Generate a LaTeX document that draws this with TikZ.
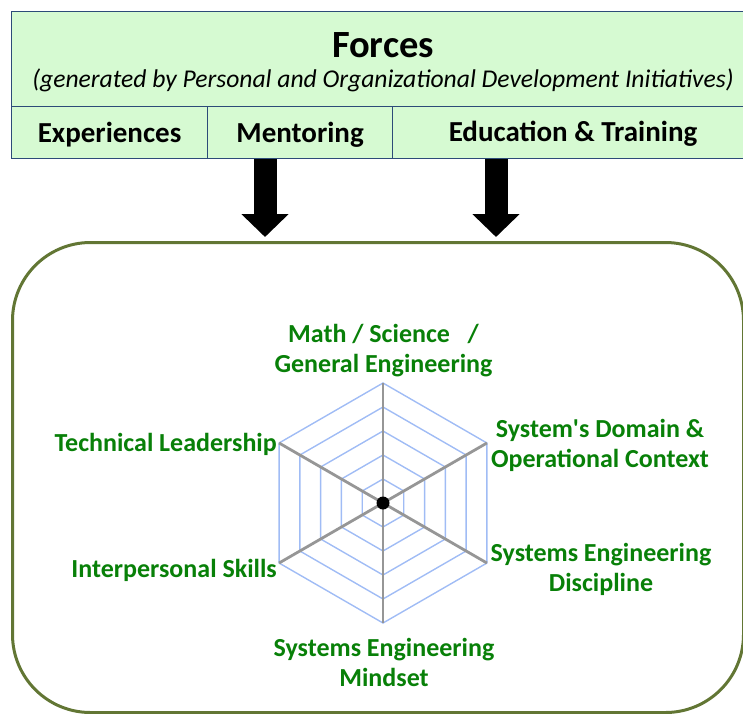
\documentclass[tikz,border=0pt]{standalone}
\usepackage{fontspec}
\setmainfont{Carlito}
\usetikzlibrary{arrows.meta,calc}
\definecolor{topfill}{RGB}{214,250,210}
\definecolor{topline}{RGB}{45,75,120}
\definecolor{panelline}{RGB}{98,118,52}
\definecolor{lblgreen}{RGB}{8,128,8}
\definecolor{ringblue}{RGB}{160,188,245}
\definecolor{axisgray}{RGB}{150,150,150}
\tikzset{
  cell/.style={draw=topline, line width=1.2pt, fill=topfill, anchor=north west, inner sep=0pt},
  celltext/.style={font=\fontsize{29}{32}\selectfont\bfseries},
  lbl/.style={text=lblgreen, font=\fontsize{26}{30}\selectfont\bfseries, align=center, inner sep=0pt},
  bigarrow/.style={line width=23pt, -{Triangle[width=46pt,length=23pt]}},
  ring/.style={draw=ringblue, line width=1.4pt},
  axis/.style={draw=axisgray, line width=2.8pt},
}
\begin{document}
\begin{tikzpicture}[x=1pt,y=-1pt]
\useasboundingbox (0,0) rectangle (743,713);
\clip (0,0) rectangle (743,713);
% top box
\node[cell, minimum width=743pt, minimum height=95pt] (forces) at (11,11) {};
\node[font=\fontsize{38.5}{44}\selectfont\bfseries] (title) at (383,45) {Forces};
\node[font=\fontsize{25.6}{30}\selectfont\itshape] (sub) at (383,80) {(generated by Personal and Organizational Development Initiatives)};
\node[cell, minimum width=196pt, minimum height=52pt] (exp) at (11,106) {};
\node[cell, minimum width=185pt, minimum height=52pt] (ment) at (207,106) {};
\node[cell, minimum width=362pt, minimum height=52pt] (edu) at (392,106) {};
\node[celltext] at ($(exp.center)+(0,2)$) {Experiences};
\node[celltext] at ($(ment.center)+(0,2)$) {Mentoring};
\node[celltext] (edut) at (573,134) {Education \& Training};
% panel
\node[draw=panelline, line width=3pt, rounded corners=78pt, minimum width=731pt, minimum height=470pt, anchor=north west, inner sep=0pt] (panel) at (11,241) {};
% arrows
\coordinate (a1e) at (265,237);
\coordinate (a2e) at (496,237);
\draw[bigarrow] (ment.south -| a1e) -- (a1e);
\draw[bigarrow] (edu.south -| a2e) -- (a2e);
% radar
\coordinate (c) at (383,503);
\begin{scope}[shift={(c)}]
\foreach \r in {24,48,72,96,120}{
  \draw[ring] (90:\r) -- (30:\r) -- (-30:\r) -- (-90:\r) -- (-150:\r) -- (150:\r) -- cycle;
}
\foreach \a in {90,30,-30,-90,-150,150}{
  \draw[axis] (0,0) -- (\a:120);
}
\end{scope}
\fill[black] (c) circle (6.5pt);
% labels
\node[lbl] (math) at (383.5,351) {Math / Science\ \ \ /\\General Engineering};
\node[lbl] (dom) at (600,445) {System\textquotesingle s Domain \&\\Operational Context};
\node[lbl] (disc) at (601,569) {Systems Engineering\\Discipline};
\node[lbl] (mind) at (384,662) {Systems Engineering\\Mindset};
\node[lbl, anchor=east] (tech) at (277,444) {Technical Leadership};
\node[lbl, anchor=east] (inter) at (277,570) {Interpersonal Skills};
\end{tikzpicture}
\end{document}
